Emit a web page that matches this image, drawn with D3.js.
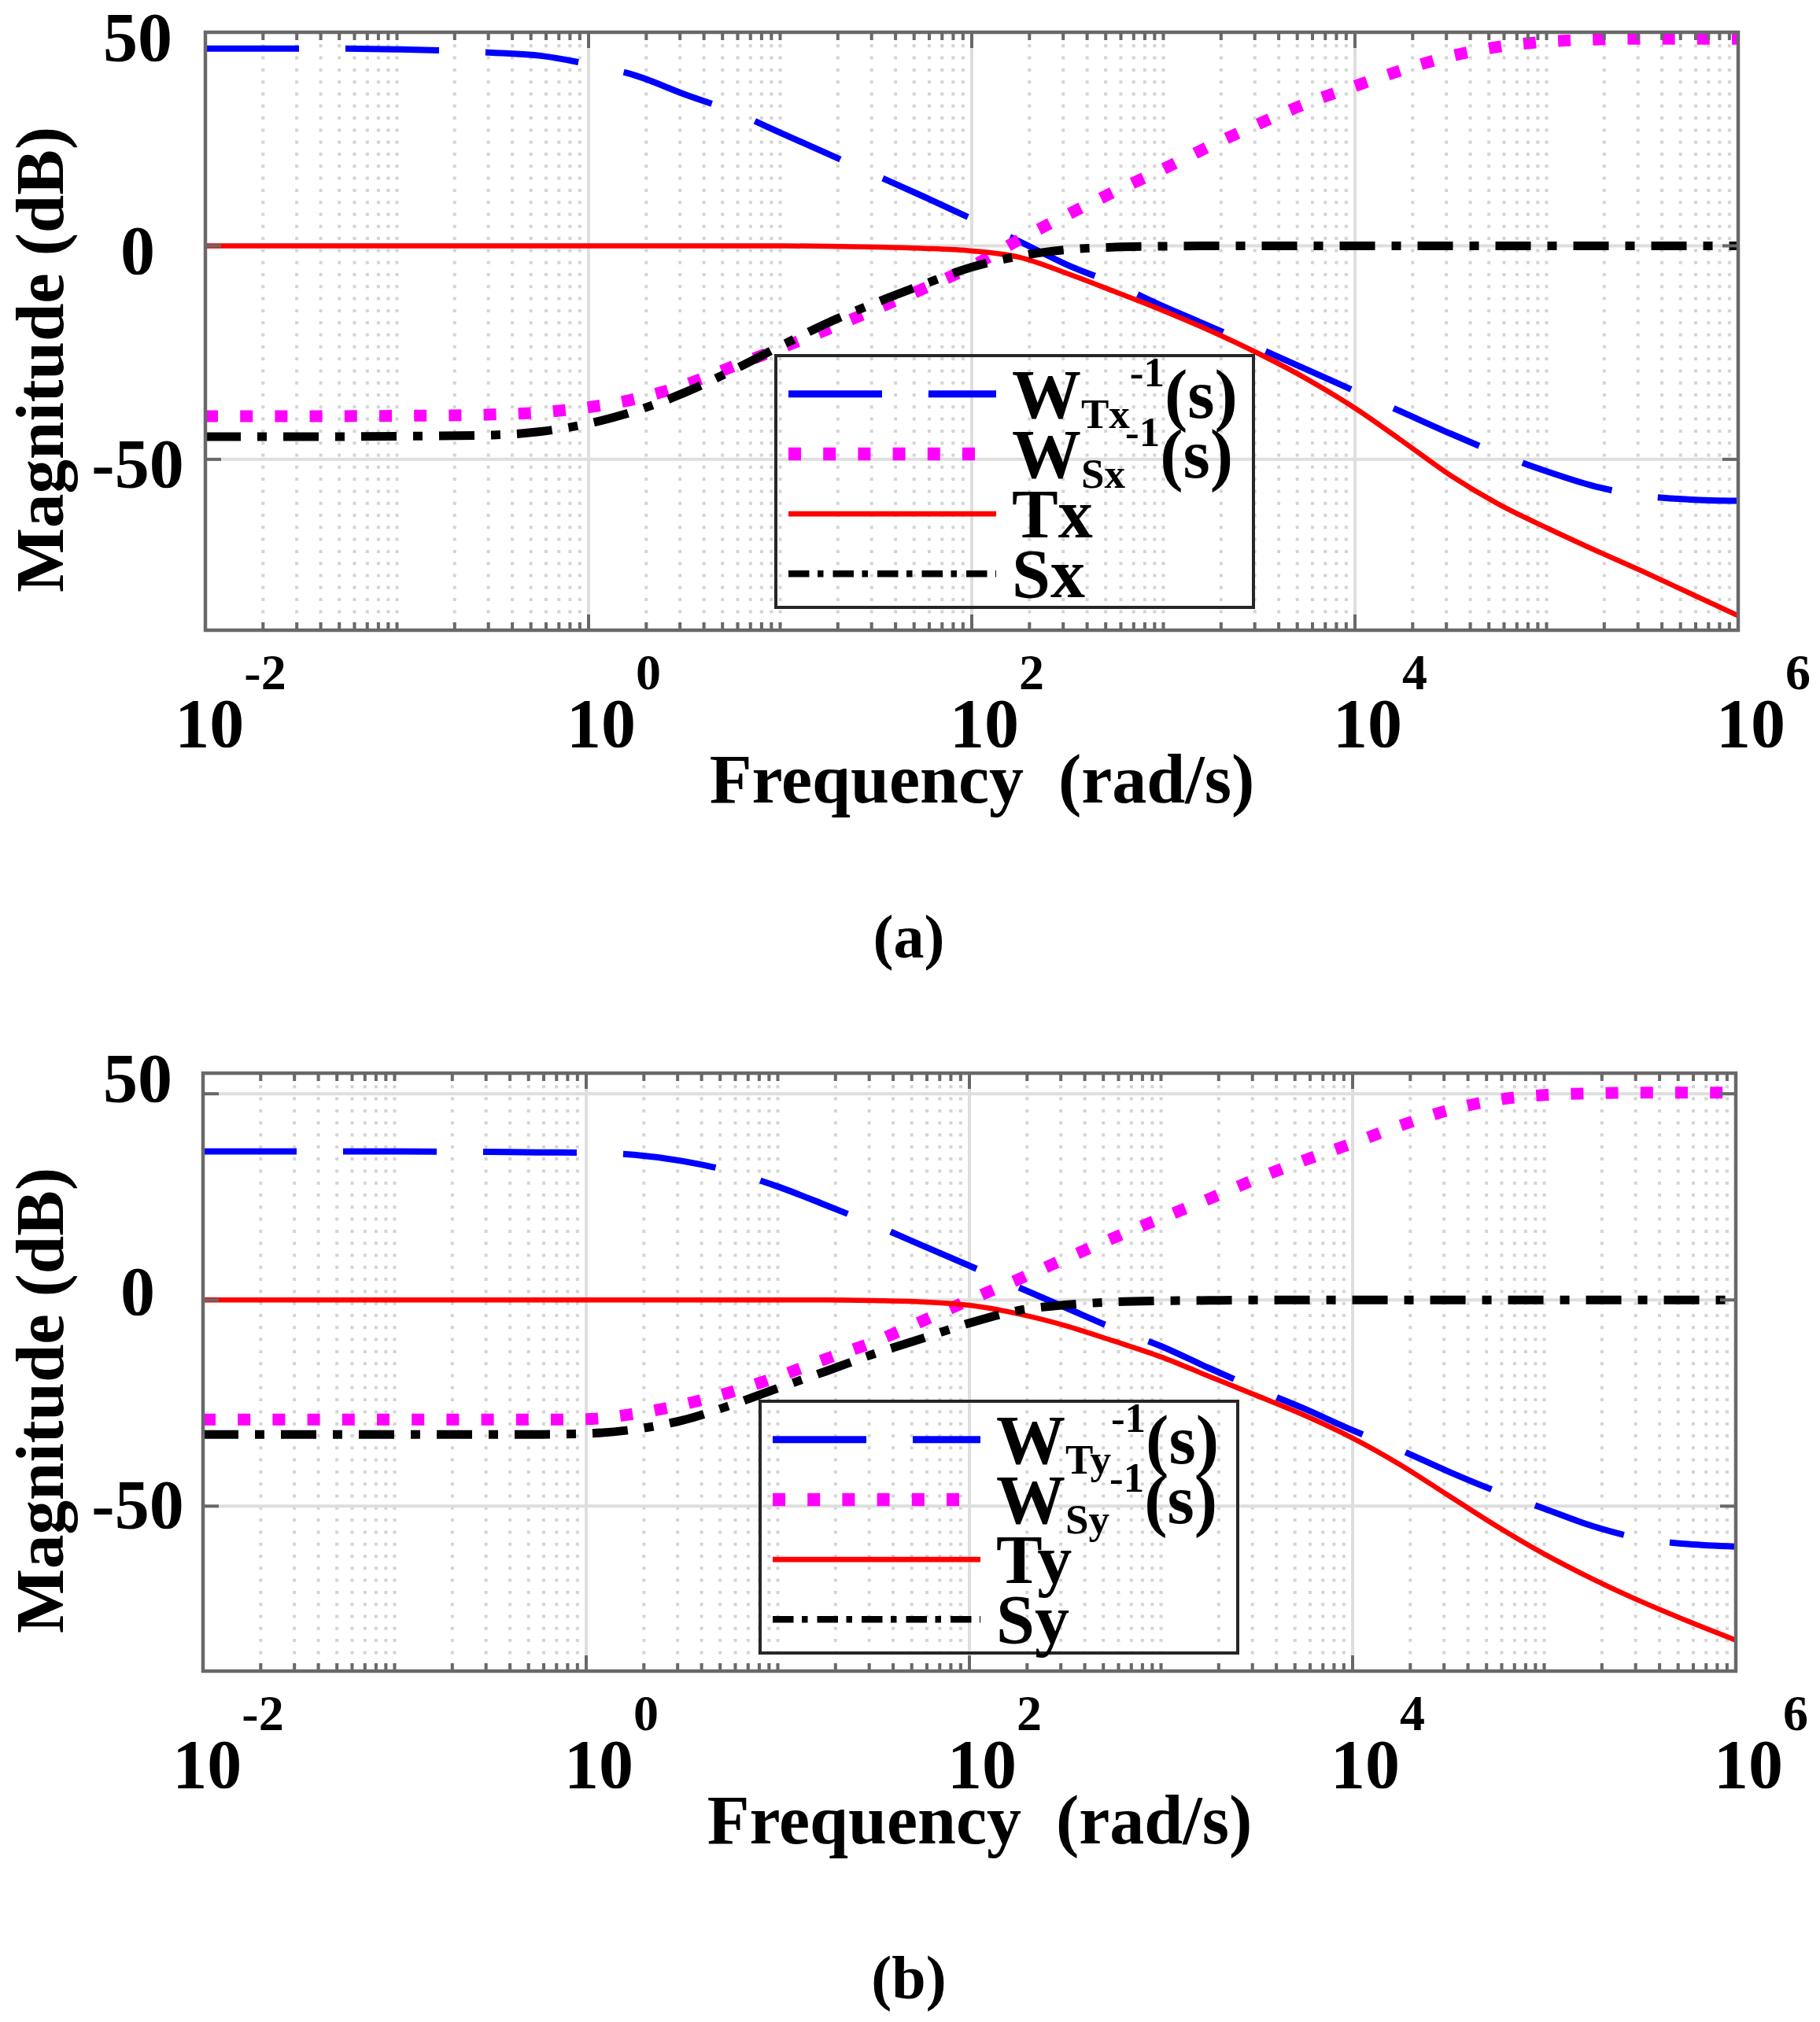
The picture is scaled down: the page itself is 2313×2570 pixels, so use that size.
<!DOCTYPE html>
<html lang="en">
<head>
<meta charset="UTF-8">
<title>Bode magnitude</title>
<style>
  body { margin: 0; background: #fff; }
  text { font-family: "Liberation Serif", "Times New Roman", serif; font-weight: bold; fill: #000; }
</style>
</head>
<body>
<svg width="2313" height="2570" id="svg"></svg>
<script src="https://d3js.org/d3.v7.min.js"></script>
<script>
// frequency grid (log10 of rad/s) used for all curves
var logW = [-2, -1.5, -1, -0.5, -0.25, 0, 0.25, 0.5, 0.75, 1, 1.25, 1.5, 1.75, 2, 2.25, 2.5, 2.75,
            3, 3.25, 3.5, 3.75, 4, 4.25, 4.5, 4.75, 5, 5.25, 5.5, 5.75, 6];
var freq = logW.map(function (e) { return Math.pow(10, e); });

// panel (a) magnitudes, dB
var wTxInv = [46.2, 46.2, 46.0, 45.2, 44.5, 42.5, 39.8, 35.5, 31.5, 26.5, 21.5, 16.5, 11.5, 6.3, 1.0, -4.5, -9.0,
              -14.2, -19.0, -24.0, -29.0, -34.0, -39.0, -44.0, -48.7, -52.8, -56.3, -58.5, -59.4, -59.7];
var wSxInv = [-39.9, -39.9, -39.8, -39.5, -39.0, -37.8, -35.8, -32.6, -28.3, -24.0, -19.5, -14.8, -10.0, -4.8, 1.5, 7.3, 12.8,
              18.0, 23.5, 28.6, 33.4, 37.4, 41.2, 44.4, 46.6, 47.8, 48.3, 48.5, 48.5, 48.5];
var tx     = [0, 0, 0, 0, 0, 0, 0, 0, 0, 0, -0.1, -0.3, -0.6, -1.2, -2.7, -6.5, -10.8,
              -15.2, -20.0, -25.3, -31.2, -38.0, -45.8, -53.8, -60.5, -66.0, -71.2, -76.2, -81.4, -86.6];
var sx     = [-44.7, -44.7, -44.6, -44.3, -43.5, -41.6, -38.6, -34.4, -29.2, -23.5, -18.0, -13.3, -9.0, -5.0, -2.4, -0.9, -0.3,
              -0.1, 0, 0, 0, 0, 0, 0, 0, 0, 0, 0, 0, 0];

// panel (b) magnitudes, dB
var wTyInv = [36.0, 36.0, 36.0, 35.9, 35.8, 35.7, 35.2, 33.7, 31.2, 27.5, 23.0, 18.3, 13.3, 8.3, 3.2, -1.8, -6.8,
              -11.2, -16.5, -21.6, -26.4, -31.6, -36.4, -41.6, -46.4, -50.6, -54.8, -57.8, -59.2, -59.8];
var wSyInv = [-29.0, -29.0, -29.0, -29.0, -29.0, -28.9, -27.6, -25.4, -22.4, -18.6, -14.3, -10.2, -5.2, 0.0, 4.9, 10.0, 15.0,
              19.8, 24.5, 29.4, 33.9, 38.0, 42.3, 46.0, 48.5, 49.7, 50.1, 50.3, 50.3, 50.3];
var ty     = [0, 0, 0, 0, 0, 0, 0, 0, 0, 0, 0, -0.15, -0.45, -1.3, -3.3, -6.2, -9.9,
              -13.8, -18.5, -23.2, -28.0, -33.5, -40.0, -47.4, -54.8, -61.6, -67.6, -73.0, -77.9, -82.5];
var sy     = [-32.6, -32.6, -32.6, -32.6, -32.6, -32.4, -31.4, -29.2, -25.6, -21.4, -17.3, -13.1, -9.4, -5.6, -2.6, -1.2, -0.5,
              -0.2, -0.1, 0, 0, 0, 0, 0, 0, 0, 0, 0, 0, 0];

var yTicks = [-50, 0, 50];

// legend texts: [main, subscript, superscript, tail]
var legendA = [["W", "Tx", "-1", "(s)"], ["W", "Sx", "-1", "(s)"], ["Tx"], ["Sx"]];
var legendB = [["W", "Ty", "-1", "(s)"], ["W", "Sy", "-1", "(s)"], ["Ty"], ["Sy"]];

var styles = [
    {color: "#0000ff", width: 8,   dash: "119 59",        lw: 9,    ldash: "119 59"},
    {color: "#ff00ff", width: 15,  dash: "16 28.2",       lw: 16.5, ldash: "16 28.2"},
    {color: "#ff0000", width: 6.5, dash: null,            lw: 6.7,  ldash: null},
    {color: "#000000", width: 11,  dash: "45 21 12 21",   lw: 8.5,  ldash: "26.5 10.5 7.5 12"}
];

var svg = d3.select("svg");
var W = 1948, H = 760;

var panels = [
    {id: "a", left: 261, top: 41, yDomain: [-90, 50], series: [wTxInv, wSxInv, tx, sx],
     legend: legendA, legX: 986, legY: 452, caption: "(a)"},
    {id: "b", left: 258, top: 1364, yDomain: [-90, 55], series: [wTyInv, wSyInv, ty, sy],
     legend: legendB, legX: 966, legY: 1781, caption: "(b)"}
];

panels.forEach(drawPanel);

function drawPanel(p) {
    var bottom = p.top + H, right = p.left + W;
    var x = d3.scaleLog().domain([1e-2, 1e6]).range([p.left, right]);
    var y = d3.scaleLinear().domain(p.yDomain).range([bottom, p.top]);
    // tick labels sit where a [-90, 50] range would put them
    var yLab = d3.scaleLinear().domain([-90, 50]).range([bottom, p.top]);

    var g = svg.append("g");

    var ticks = x.ticks().filter(function (t) { return t >= 1e-2 && t <= 1e6; });
    var isMajor = function (t) {
        var e = Math.round(Math.log10(t));
        return Math.abs(Math.log10(t) - e) < 1e-9 && e % 2 === 0;
    };
    var major = ticks.filter(isMajor);
    var minor = ticks.filter(function (t) { return !isMajor(t); });

    // grid
    g.selectAll(".mg").data(minor).enter().append("line")
        .attr("x1", function (d) { return x(d); }).attr("x2", function (d) { return x(d); })
        .attr("y1", p.top).attr("y2", bottom)
        .attr("stroke", "#d4d4d4").attr("stroke-width", 4).attr("stroke-dasharray", "4 11.3");
    g.selectAll(".Mg").data(major).enter().append("line")
        .attr("x1", function (d) { return x(d); }).attr("x2", function (d) { return x(d); })
        .attr("y1", p.top).attr("y2", bottom)
        .attr("stroke", "#dedede").attr("stroke-width", 4);
    g.selectAll(".hg").data(yTicks).enter().append("line")
        .attr("x1", p.left).attr("x2", right)
        .attr("y1", function (d) { return y(d); }).attr("y2", function (d) { return y(d); })
        .attr("stroke", "#dedede").attr("stroke-width", 4);

    // curves
    var clipId = "clip" + p.id;
    svg.append("clipPath").attr("id", clipId).append("rect")
        .attr("x", p.left).attr("y", p.top).attr("width", W).attr("height", H);
    var line = d3.line()
        .x(function (d) { return x(d[0]); })
        .y(function (d) { return y(d[1]); })
        .curve(d3.curveMonotoneX);
    p.series.forEach(function (vals, i) {
        var s = styles[i];
        g.append("path")
            .datum(freq.map(function (f, k) { return [f, vals[k]]; }))
            .attr("clip-path", "url(#" + clipId + ")")
            .attr("d", line)
            .attr("fill", "none")
            .attr("stroke", s.color)
            .attr("stroke-width", s.width)
            .attr("stroke-dasharray", s.dash)
            .attr("stroke-linecap", "butt")
            .attr("stroke-linejoin", "round");
    });

    // box + ticks
    var axCol = "#686868";
    [[bottom, -1], [p.top, 1]].forEach(function (side) {
        g.selectAll(null).data(ticks).enter().append("line")
            .attr("x1", function (d) { return x(d); }).attr("x2", function (d) { return x(d); })
            .attr("y1", side[0])
            .attr("y2", function (d) { return side[0] + side[1] * (isMajor(d) ? 20 : 10); })
            .attr("stroke", axCol).attr("stroke-width", 4);
    });
    [[p.left, 1], [right, -1]].forEach(function (side) {
        g.selectAll(null).data(yTicks).enter().append("line")
            .attr("x1", side[0]).attr("x2", side[0] + side[1] * 20)
            .attr("y1", function (d) { return y(d); }).attr("y2", function (d) { return y(d); })
            .attr("stroke", axCol).attr("stroke-width", 4);
    });
    g.append("rect")
        .attr("x", p.left).attr("y", p.top).attr("width", W).attr("height", H)
        .attr("fill", "none").attr("stroke", axCol).attr("stroke-width", 4.5);

    // x tick labels 10^n
    major.forEach(function (t) {
        var e = Math.round(Math.log10(t));
        var tx = g.append("text")
            .attr("x", x(t) + 32).attr("y", bottom + 148)
            .attr("text-anchor", "middle")
            .attr("font-size", 88);
        tx.append("tspan").text("10");
        tx.append("tspan").attr("dy", -73).attr("font-size", 64).text(String(e));
    });

    // y tick labels
    g.selectAll(".yl").data(yTicks).enter().append("text")
        .attr("x", 175).attr("y", function (d) { return yLab(d) + 35.5; })
        .attr("text-anchor", "middle").attr("font-size", 88)
        .text(function (d) { return String(d); });

    // axis titles
    g.append("text")
        .attr("x", p.left + W / 2 + 13).attr("y", bottom + 219)
        .attr("text-anchor", "middle").attr("font-size", 88)
        .style("white-space", "pre")
        .text("Frequency  (rad/s)");
    g.append("text")
        .attr("transform", "translate(80," + (p.top + 416) + ") rotate(-90)")
        .attr("text-anchor", "middle").attr("font-size", 87)
        .text("Magnitude (dB)");

    // legend
    var lg = g.append("g");
    lg.append("rect")
        .attr("x", p.legX).attr("y", p.legY).attr("width", 607).attr("height", 320)
        .attr("fill", "none").attr("stroke", "#262626").attr("stroke-width", 4);
    p.legend.forEach(function (parts, i) {
        var s = styles[i];
        var ly = p.legY + 48.7 + i * 76.2;
        lg.append("line")
            .attr("x1", p.legX + 16).attr("x2", p.legX + 280)
            .attr("y1", ly).attr("y2", ly)
            .attr("stroke", s.color).attr("stroke-width", s.lw)
            .attr("stroke-dasharray", s.ldash);
        var t = lg.append("text")
            .attr("x", p.legX + 300).attr("y", ly + 30)
            .attr("font-size", 88);
        t.append("tspan").text(parts[0]);
        if (parts.length > 1) {
            t.append("tspan").attr("dy", 13).attr("font-size", 53).text(parts[1]);
            t.append("tspan").attr("dy", -53).attr("font-size", 53).text(parts[2]);
            t.append("tspan").attr("dy", 40).text(parts[3]);
        }
    });

    // caption
    g.append("text")
        .attr("x", 1155).attr("y", bottom + 416)
        .attr("text-anchor", "middle").attr("font-size", 78)
        .text(p.caption);
}
</script>
</body>
</html>
